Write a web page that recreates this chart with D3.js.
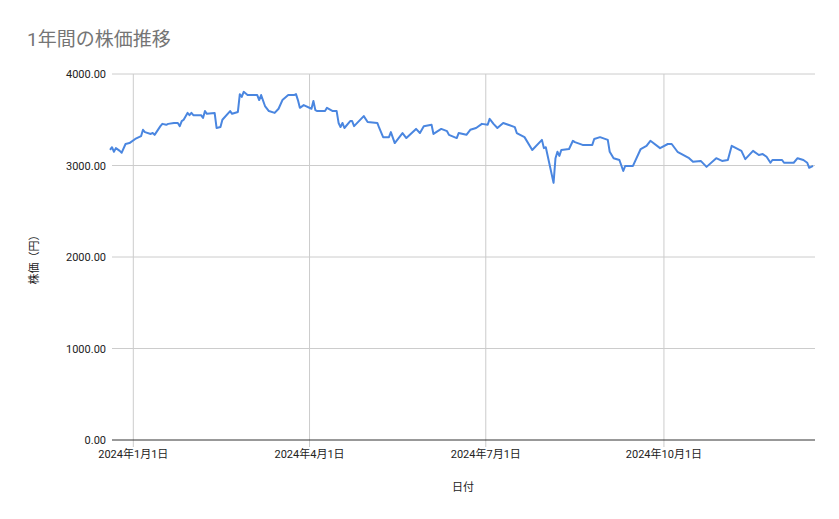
<!DOCTYPE html>
<html lang="ja">
<head>
<meta charset="UTF-8">
<title>1年間の株価推移</title>
<script src="https://d3js.org/d3.v7.min.js"></script>
<style>
  body { margin: 0; background: #fff; }
  text { font-family: Roboto, "Noto Sans CJK JP", sans-serif; }
</style>
</head>
<body>
<svg width="839" height="519"></svg>
<script>
// 日付と株価
const dates = ["2023-12-20","2023-12-21","2023-12-22","2023-12-23","2023-12-25","2023-12-26","2023-12-28","2023-12-30",
  "2024-01-02","2024-01-05","2024-01-06","2024-01-07","2024-01-10","2024-01-11","2024-01-12","2024-01-15","2024-01-16","2024-01-18","2024-01-19","2024-01-22","2024-01-24","2024-01-25","2024-01-26","2024-01-27","2024-01-29","2024-01-30","2024-01-31",
  "2024-02-01","2024-02-05","2024-02-06","2024-02-07","2024-02-08","2024-02-12","2024-02-13","2024-02-15","2024-02-16","2024-02-20","2024-02-21","2024-02-24","2024-02-25","2024-02-26","2024-02-27","2024-02-29",
  "2024-03-05","2024-03-06","2024-03-07","2024-03-09","2024-03-11","2024-03-14","2024-03-16","2024-03-18","2024-03-21","2024-03-24","2024-03-25","2024-03-26","2024-03-27","2024-03-29",
  "2024-04-02","2024-04-03","2024-04-04","2024-04-05","2024-04-09","2024-04-10","2024-04-13","2024-04-15","2024-04-16","2024-04-17","2024-04-18","2024-04-19","2024-04-22","2024-04-23","2024-04-24","2024-04-29",
  "2024-05-01","2024-05-06","2024-05-07","2024-05-09","2024-05-12","2024-05-13","2024-05-15","2024-05-19","2024-05-21","2024-05-26","2024-05-28","2024-05-30",
  "2024-06-03","2024-06-04","2024-06-08","2024-06-11","2024-06-12","2024-06-16","2024-06-17","2024-06-21","2024-06-23","2024-06-26","2024-06-29",
  "2024-07-02","2024-07-03","2024-07-05","2024-07-07","2024-07-10","2024-07-16","2024-07-17","2024-07-21","2024-07-25","2024-07-30","2024-07-31",
  "2024-08-01","2024-08-05","2024-08-06","2024-08-07","2024-08-08","2024-08-09","2024-08-13","2024-08-15","2024-08-16","2024-08-20","2024-08-25","2024-08-26","2024-08-29",
  "2024-09-02","2024-09-03","2024-09-05","2024-09-08","2024-09-10","2024-09-11","2024-09-15","2024-09-19","2024-09-22","2024-09-24","2024-09-29",
  "2024-10-03","2024-10-05","2024-10-08","2024-10-14","2024-10-16","2024-10-20","2024-10-23","2024-10-28","2024-10-31",
  "2024-11-03","2024-11-05","2024-11-10","2024-11-12","2024-11-16","2024-11-19","2024-11-21","2024-11-23","2024-11-25","2024-11-26",
  "2024-12-01","2024-12-02","2024-12-07","2024-12-09","2024-12-12","2024-12-14","2024-12-15","2024-12-17"];
const prices = [3170,3200,3150,3190,3160,3140,3235,3245,
  3290,3320,3390,3365,3345,3355,3335,3430,3455,3445,3455,3465,3465,3430,3485,3500,3575,3550,3575,
  3550,3550,3520,3595,3565,3575,3410,3420,3500,3595,3565,3585,3780,3750,3805,3770,
  3770,3715,3770,3650,3595,3575,3620,3715,3770,3770,3780,3715,3630,3660,
  3620,3705,3605,3595,3595,3630,3595,3595,3465,3420,3465,3410,3485,3485,3430,3540,
  3475,3465,3410,3310,3310,3365,3245,3355,3300,3400,3355,3430,
  3445,3345,3400,3375,3335,3300,3355,3335,3390,3410,3455,
  3445,3510,3455,3410,3465,3420,3355,3310,3170,3280,3190,
  3200,2810,3080,3150,3105,3170,3180,3270,3255,3225,3225,3290,3310,
  3280,3150,3080,3060,2940,2995,2995,3180,3215,3270,3190,
  3235,3235,3150,3080,3040,3050,2985,3080,3050,
  3060,3215,3160,3070,3160,3115,3125,3095,3030,3060,
  3060,3030,3030,3080,3060,3030,2975,2995];
const yTicks = [0, 1000, 2000, 3000, 4000];
const xTickDates = ["2024-01-01", "2024-04-01", "2024-07-01", "2024-10-01"];

const parse = d3.timeParse("%Y-%m-%d");
const data = dates.map((d, i) => ({ date: parse(d), value: prices[i] }));

const svg = d3.select("svg");
const plotL = 112, plotR = 815, plotT = 74, plotB = 440;

const x = d3.scaleTime()
  .domain([parse("2023-12-21"), parse("2024-12-18")])
  .range([plotL, plotR]);
const y = d3.scaleLinear().domain([0, 4000]).range([plotB, plotT]);

// タイトル
svg.append("text")
  .attr("x", 27).attr("y", 46)
  .attr("font-size", 19).attr("fill", "#757575")
  .text("1年間の株価推移");

// 横グリッド
svg.append("g").selectAll("line")
  .data(yTicks.filter(t => t > 0))
  .join("line")
  .attr("x1", plotL).attr("x2", plotR)
  .attr("y1", d => y(d)).attr("y2", d => y(d))
  .attr("stroke", "#cccccc");

// 縦グリッド
svg.append("g").selectAll("line")
  .data(xTickDates)
  .join("line")
  .attr("x1", d => x(parse(d))).attr("x2", d => x(parse(d)))
  .attr("y1", plotT).attr("y2", plotB + 7)
  .attr("stroke", "#cccccc");

// 基線
svg.append("line")
  .attr("x1", plotL).attr("x2", plotR)
  .attr("y1", plotB).attr("y2", plotB)
  .attr("stroke", "#333");

// Y軸ラベル
svg.append("g").selectAll("text")
  .data(yTicks)
  .join("text")
  .attr("x", 106).attr("y", d => y(d) + 4)
  .attr("text-anchor", "end").attr("font-size", 11).attr("fill", "#222")
  .text(d => d3.format(".2f")(d));

// X軸ラベル
svg.append("g").selectAll("text")
  .data(xTickDates)
  .join("text")
  .attr("x", d => x(parse(d))).attr("y", 458)
  .attr("text-anchor", "middle").attr("font-size", 11).attr("fill", "#222")
  .text(d => { const t = parse(d); return `${t.getFullYear()}年${t.getMonth() + 1}月${t.getDate()}日`; });

// 軸タイトル
svg.append("text")
  .attr("x", 463).attr("y", 491)
  .attr("text-anchor", "middle").attr("font-size", 11).attr("fill", "#222")
  .text("日付");

svg.append("text")
  .attr("transform", "translate(38,257) rotate(-90)")
  .attr("text-anchor", "middle").attr("font-size", 11).attr("fill", "#222")
  .text("株価（円）");

// 折れ線
svg.append("path")
  .datum(data)
  .attr("fill", "none")
  .attr("stroke", "#4a86e0")
  .attr("stroke-width", 2)
  .attr("stroke-linejoin", "round")
  .attr("d", d3.line().x(d => x(d.date)).y(d => y(d.value)));
</script>
</body>
</html>
